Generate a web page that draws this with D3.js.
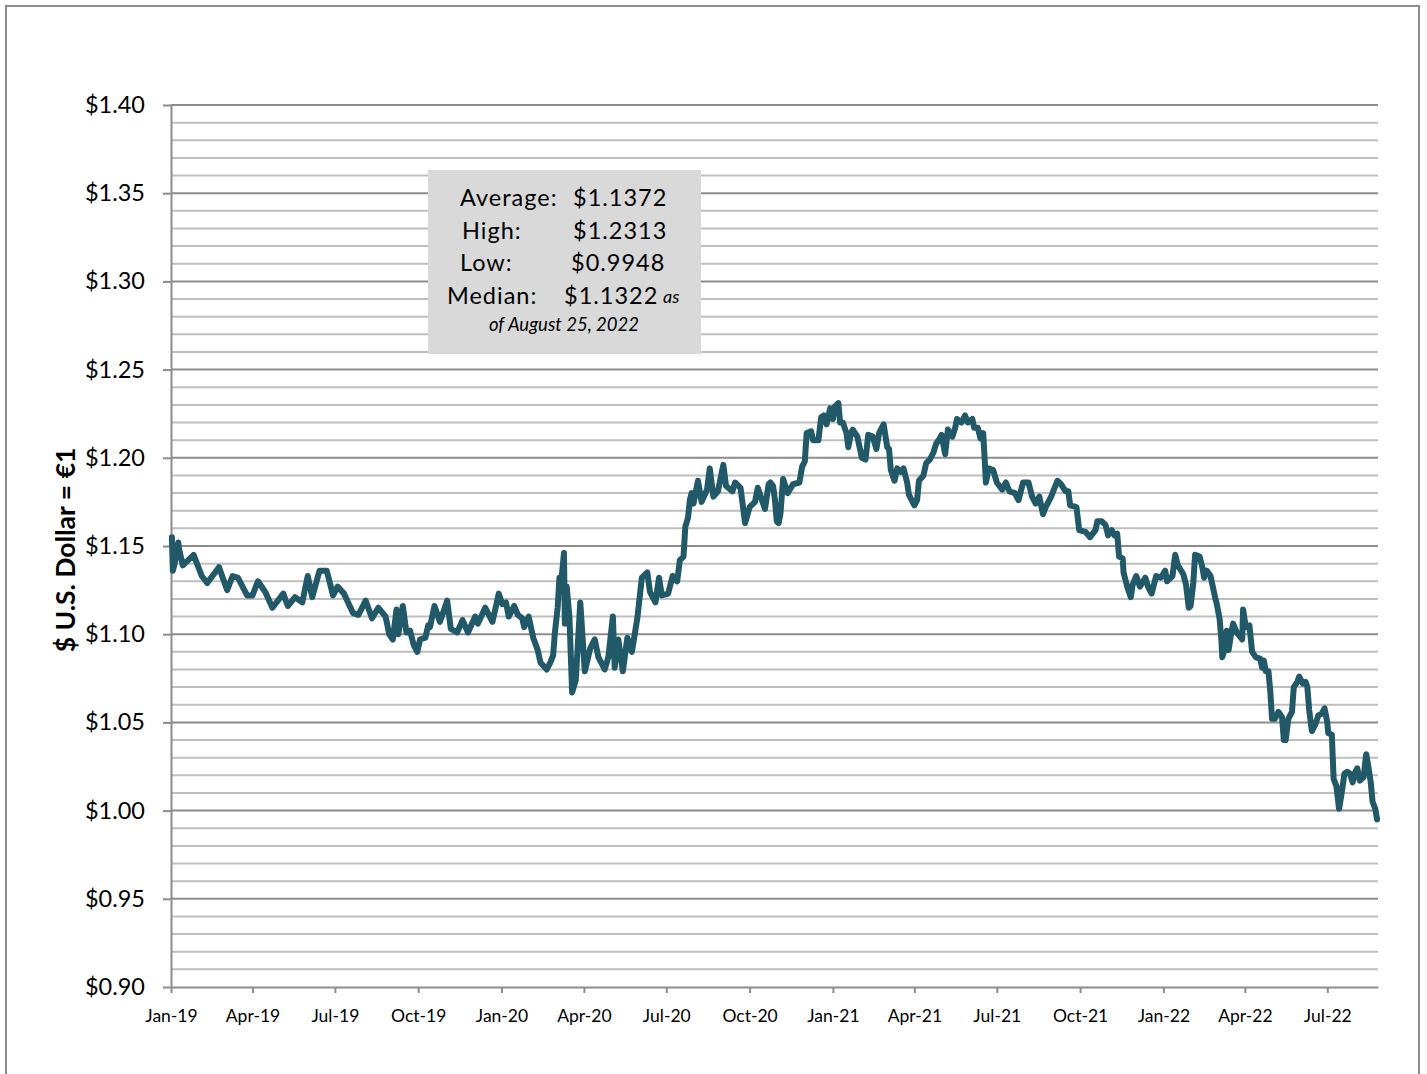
<!DOCTYPE html>
<html>
<head>
<meta charset="utf-8">
<script src="https://cdn.jsdelivr.net/npm/d3@7"></script>
<style>
  body { margin: 0; background: #fff; }
  svg { display: block; font-family: Lato, "Open Sans", sans-serif; }
</style>
</head>
<body>
<svg></svg>
<script>
// Daily-ish readings: [days since 2019-01-01, USD per EUR]
const rates2019 = [[1,1.155],[2,1.136],[4,1.140],[8,1.152],[9,1.148],[13,1.139],[25,1.145],[34,1.133],[40,1.129],[53,1.138],[62,1.125],[68,1.133],[74,1.132],[84,1.122],[90,1.122],[96,1.130],[104,1.124],[112,1.115],[124,1.123],[129,1.116],[137,1.121],[145,1.118],[151,1.133],[156,1.121],[164,1.136],[172,1.136],[179,1.122],[184,1.127],[191,1.123],[201,1.112],[207,1.111],[215,1.119],[222,1.109],[229,1.115],[237,1.110],[241,1.100],[245,1.097],[249,1.114],[251,1.100],[256,1.116],[260,1.101],[264,1.102],[268,1.094],[272,1.090],[275,1.097],[281,1.098],[284,1.105],[286,1.104],[291,1.116],[297,1.107],[305,1.119],[309,1.103],[316,1.101],[322,1.108],[328,1.101],[336,1.110],[339,1.106],[347,1.115],[355,1.107],[362,1.123]];
const rates2020 = [[366,1.117],[370,1.118],[373,1.110],[379,1.116],[383,1.111],[388,1.109],[390,1.104],[395,1.110],[400,1.098],[405,1.091],[408,1.084],[415,1.080],[419,1.084],[422,1.088],[424,1.101],[427,1.115],[429,1.132],[431,1.130],[434,1.146],[435,1.106],[437,1.127],[440,1.110],[443,1.067],[447,1.074],[452,1.118],[457,1.079],[463,1.092],[468,1.097],[472,1.087],[475,1.084],[479,1.080],[483,1.087],[488,1.110],[490,1.081],[494,1.097],[499,1.079],[504,1.098],[509,1.090],[515,1.109],[520,1.132],[526,1.135],[529,1.124],[535,1.118],[539,1.132],[542,1.122],[549,1.123],[554,1.133],[559,1.130],[562,1.142],[566,1.144],[568,1.161],[571,1.166],[573,1.176],[575,1.180],[577,1.174],[582,1.187],[586,1.175],[592,1.182],[595,1.194],[599,1.178],[604,1.181],[610,1.196],[613,1.184],[620,1.181],[623,1.186],[629,1.183],[634,1.163],[639,1.172],[645,1.175],[648,1.183],[656,1.171],[660,1.185],[662,1.186],[665,1.184],[667,1.176],[669,1.164],[671,1.163],[673,1.168],[676,1.188],[681,1.180],[687,1.185],[694,1.186],[697,1.195],[700,1.198],[702,1.214],[707,1.215],[709,1.210],[715,1.210],[718,1.223],[721,1.224],[724,1.219],[728,1.228]];
const rates2021 = [[731,1.222],[733,1.229],[737,1.231],[739,1.220],[742,1.220],[746,1.214],[748,1.206],[751,1.214],[753,1.216],[758,1.212],[763,1.200],[767,1.199],[770,1.213],[775,1.212],[779,1.205],[782,1.214],[787,1.219],[791,1.206],[793,1.205],[795,1.193],[799,1.187],[802,1.194],[806,1.192],[809,1.194],[813,1.186],[815,1.179],[821,1.173],[824,1.176],[826,1.187],[831,1.190],[834,1.197],[838,1.199],[842,1.203],[845,1.208],[849,1.211],[851,1.213],[855,1.202],[858,1.216],[863,1.212],[866,1.217],[868,1.222],[873,1.220],[877,1.224],[880,1.220],[885,1.222],[887,1.217],[891,1.217],[894,1.211],[897,1.214],[900,1.186],[903,1.194],[908,1.193],[912,1.186],[918,1.182],[922,1.186],[926,1.181],[932,1.180],[936,1.176],[941,1.186],[947,1.186],[951,1.178],[955,1.174],[959,1.178],[963,1.168],[966,1.172],[972,1.178],[979,1.187],[983,1.185],[988,1.181],[991,1.181],[993,1.173],[1000,1.172],[1003,1.159],[1010,1.158],[1015,1.155],[1021,1.159],[1023,1.164],[1028,1.164],[1032,1.162],[1035,1.156],[1039,1.159],[1042,1.156],[1045,1.157],[1047,1.144],[1051,1.143],[1052,1.135],[1056,1.127],[1060,1.121],[1062,1.128],[1066,1.133],[1070,1.127],[1076,1.132],[1079,1.127],[1083,1.123],[1088,1.133],[1093,1.132]];
const rates2022 = [[1098,1.136],[1100,1.130],[1106,1.133],[1109,1.145],[1112,1.139],[1118,1.134],[1121,1.128],[1124,1.115],[1126,1.116],[1129,1.129],[1131,1.145],[1136,1.144],[1139,1.138],[1141,1.132],[1144,1.136],[1148,1.133],[1151,1.126],[1153,1.121],[1155,1.117],[1158,1.109],[1160,1.097],[1161,1.087],[1164,1.092],[1166,1.102],[1168,1.091],[1171,1.101],[1173,1.106],[1177,1.101],[1183,1.097],[1184,1.114],[1187,1.104],[1191,1.105],[1194,1.090],[1198,1.087],[1203,1.086],[1205,1.081],[1207,1.085],[1209,1.079],[1212,1.079],[1214,1.068],[1216,1.052],[1219,1.052],[1223,1.056],[1227,1.053],[1229,1.040],[1231,1.040],[1234,1.052],[1238,1.056],[1240,1.070],[1244,1.073],[1246,1.076],[1250,1.072],[1253,1.073],[1255,1.070],[1257,1.057],[1260,1.045],[1264,1.049],[1267,1.054],[1271,1.055],[1274,1.058],[1277,1.050],[1278,1.044],[1282,1.043],[1284,1.018],[1287,1.014],[1290,1.001],[1292,1.007],[1296,1.021],[1299,1.022],[1302,1.021],[1305,1.016],[1308,1.022],[1310,1.024],[1313,1.017],[1317,1.019],[1320,1.032],[1322,1.026],[1325,1.016],[1327,1.005],[1330,1.001],[1332,0.995]];

const yTicks = [0.90, 0.95, 1.00, 1.05, 1.10, 1.15, 1.20, 1.25, 1.30, 1.35, 1.40];
const statLabels = ["Average:", "High:", "Low:", "Median:"];
const statValues = ["$1.1372", "$1.2313", "$0.9948", "$1.1322"];
const asOfText = "of August 25, 2022";

// Set dimensions and margins of the graph
const margin = { top: 105, right: 49, bottom: 87, left: 171 },
  width = 1427 - margin.left - margin.right,
  height = 1074 - margin.top - margin.bottom;

const root = d3.select("svg").attr("width", 1427).attr("height", 1074);

// outer frame (runs off the bottom)
root.append("rect")
  .attr("x", 6).attr("y", 6).attr("width", 1413).attr("height", 1100)
  .attr("fill", "none").attr("stroke", "#8c8c8c").attr("stroke-width", 2);

const svg = root.append("g").attr("transform", `translate(${margin.left},${margin.top})`);

const base = new Date(2019, 0, 1);
const data = [...rates2019, ...rates2020, ...rates2021, ...rates2022]
  .map(([d, v]) => ({ date: d3.timeDay.offset(base, d), value: v }));

const x = d3.scaleTime()
  .domain([base, new Date(2022, 7, 26)])
  .range([0, width]);

const y = d3.scaleLinear()
  .domain([0.90, 1.40])
  .range([height, 0]);

// gridlines every 0.01, darker every 0.05
const grid = d3.range(91, 141).map(i => i / 100);
svg.append("g").selectAll("line")
  .data(grid)
  .join("line")
  .attr("x1", 0).attr("x2", width)
  .attr("y1", d => y(d)).attr("y2", d => y(d))
  .attr("stroke", d => Math.round(d * 100) % 5 === 0 ? "#8c8c8c" : "#bfbfbf")
  .attr("stroke-width", 2);

// Y axis
const yAxis = svg.append("g")
  .call(d3.axisLeft(y).tickValues(yTicks)
    .tickFormat(d => "$" + d.toFixed(2))
    .tickSize(8).tickSizeOuter(0).tickPadding(18));
yAxis.select(".domain").attr("stroke", "#8c8c8c").attr("stroke-width", 2);
yAxis.selectAll(".tick line").attr("stroke", "#8c8c8c").attr("stroke-width", 2);
yAxis.selectAll("text").attr("font-size", 23.5).attr("fill", "#000")
  .attr("font-family", "Lato, sans-serif");

// X axis
const xAxis = svg.append("g")
  .attr("transform", `translate(0,${height})`)
  .call(d3.axisBottom(x).ticks(d3.timeMonth.every(3))
    .tickFormat(d3.timeFormat("%b-%y"))
    .tickSize(6).tickSizeOuter(0).tickPadding(17));
xAxis.select(".domain").attr("stroke", "#8c8c8c").attr("stroke-width", 2);
xAxis.selectAll(".tick line").attr("stroke", "#8c8c8c").attr("stroke-width", 2);
xAxis.selectAll("text").attr("font-size", 17.5).attr("fill", "#000")
  .attr("font-family", "Lato, sans-serif");

// axis title
root.append("text")
  .attr("transform", "translate(75,550) rotate(-90)")
  .attr("text-anchor", "middle")
  .attr("font-size", 26.5).attr("font-weight", "bold")
  .text("$ U.S. Dollar = €1");

// Draw the line
svg.append("path")
  .datum(data)
  .attr("fill", "none")
  .attr("stroke", "#215968")
  .attr("stroke-width", 6)
  .attr("stroke-linejoin", "round")
  .attr("stroke-linecap", "round")
  .attr("d", d3.line().x(d => x(d.date)).y(d => y(d.value)));

// stats box
const box = root.append("g");
box.append("rect")
  .attr("x", 428).attr("y", 170).attr("width", 273).attr("height", 184)
  .attr("fill", "#d9d9d9");
const labelX = [460, 462, 460, 447];
const valueX = [573, 573, 571, 564];
statLabels.forEach((lab, i) => {
  const by = 206 + i * 32.5;
  box.append("text").attr("x", labelX[i]).attr("y", by)
    .attr("font-size", 23.5).attr("letter-spacing", 1).text(lab);
  box.append("text").attr("x", valueX[i]).attr("y", by)
    .attr("font-size", 23.5).attr("letter-spacing", 1).text(statValues[i]);
});
box.append("text").attr("x", 663).attr("y", 303)
  .attr("font-size", 18).attr("font-style", "italic").text("as");
box.append("text").attr("x", 564).attr("y", 331)
  .attr("text-anchor", "middle")
  .attr("font-size", 18.5).attr("font-style", "italic").text(asOfText);
</script>
</body>
</html>
